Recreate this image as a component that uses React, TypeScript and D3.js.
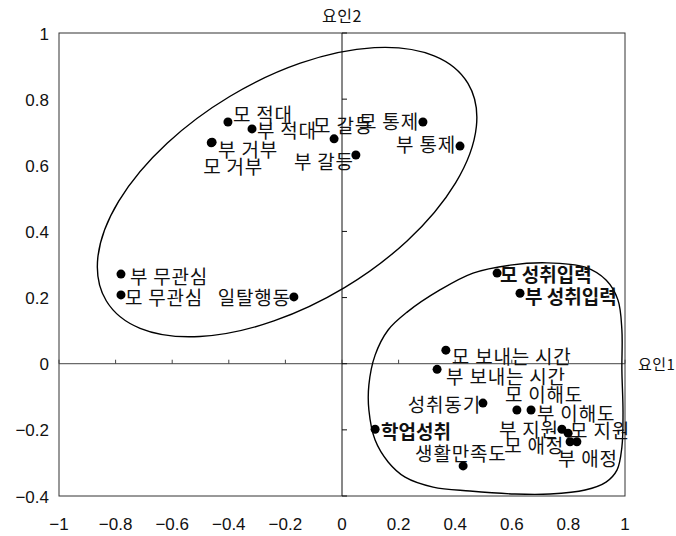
import React from "react";
import * as d3 from "d3";

// ---- data ----
const names = [
  "모 적대", "부 적대", "부 거부", "모 거부", "모 갈등", "부 갈등", "모 통제", "부 통제",
  "부 무관심", "모 무관심", "일탈행동",
  "모 성취입력", "부 성취입력", "모 보내는 시간", "부 보내는 시간", "성취동기",
  "모 이해도", "부 이해도", "학업성취", "부 지원", "모 지원", "모 애정", "부 애정", "생활만족도",
];
const factor1 = [
  -0.403, -0.318, -0.459, -0.462, -0.028, 0.049, 0.286, 0.417,
  -0.781, -0.781, -0.170,
  0.548, 0.629, 0.367, 0.336, 0.498,
  0.618, 0.668, 0.117, 0.777, 0.799, 0.806, 0.830, 0.428,
];
const factor2 = [
  0.731, 0.710, 0.670, 0.668, 0.680, 0.631, 0.731, 0.658,
  0.271, 0.208, 0.202,
  0.274, 0.213, 0.041, -0.017, -0.119,
  -0.140, -0.140, -0.198, -0.198, -0.210, -0.236, -0.236, -0.309,
];
const boldNames = ["모 성취입력", "부 성취입력", "학업성취"];

const xTicks = [-1, -0.8, -0.6, -0.4, -0.2, 0, 0.2, 0.4, 0.6, 0.8, 1];
const yTicks = [-0.4, -0.2, 0, 0.2, 0.4, 0.6, 0.8, 1];
const xAxisTitle = "요인1";
const yAxisTitle = "요인2";

// cluster outlines (in factor units)
const upperClusterCenter = [-0.194, 0.519];
const lowerCluster: [number, number][] = [
  [0.724, 0.305], [0.859, 0.292], [0.933, 0.253], [0.975, 0.193], [0.989, 0.102],
  [0.989, -0.019], [0.993, -0.149], [0.989, -0.252], [0.972, -0.321], [0.933, -0.358],
  [0.859, -0.382], [0.735, -0.394], [0.611, -0.394], [0.452, -0.385], [0.322, -0.373],
  [0.223, -0.343], [0.163, -0.297], [0.117, -0.231], [0.095, -0.140], [0.095, -0.064],
  [0.117, 0.026], [0.163, 0.102], [0.230, 0.156], [0.346, 0.223], [0.463, 0.274],
  [0.594, 0.298],
];

// ---- layout ----
const labelLayout: Record<string, [string, number, number]> = {
  "모 적대": ["start", 5, -8],
  "부 적대": ["start", 5, 1],
  "부 거부": ["start", 6, 6],
  "모 거부": ["start", -8, 23],
  "모 갈등": ["start", -21, -14],
  "부 갈등": ["end", -2, 5],
  "모 통제": ["end", -4, -1],
  "부 통제": ["end", -4, -3],
  "부 무관심": ["start", 9, 1],
  "모 무관심": ["start", 4, 2],
  "일탈행동": ["end", -3, 0],
  "모 성취입력": ["start", 3, 0],
  "부 성취입력": ["start", 5, 2],
  "모 보내는 시간": ["start", 6, 5],
  "부 보내는 시간": ["start", 9, 6],
  "성취동기": ["end", -2, 0],
  "모 이해도": ["start", -12, -17],
  "부 이해도": ["start", 6, 2],
  "학업성취": ["start", 6, 1],
  "부 지원": ["end", -3, -1],
  "모 지원": ["start", 2, -4],
  "모 애정": ["end", -6, 3],
  "부 애정": ["start", -19, 16],
  "생활만족도": ["start", -48, -13],
};

const W = 676, H = 536;
const left = 59, right = 625, top = 33, bottom = 496;
const KR = "'Noto Sans CJK KR', 'Noto Sans', sans-serif";
const NUM = "'Liberation Sans', Arial, sans-serif";

export default function App() {
  const x = d3.scaleLinear().domain([-1, 1]).range([left, right]);
  const y = d3.scaleLinear().domain([-0.4, 1]).range([bottom, top]);
  const fmt = (v: number) => (v < 0 ? "\u2212" : "") + d3.format("")(Math.abs(+v.toFixed(1)));

  const blobPath = d3
    .line<[number, number]>()
    .x((d) => x(d[0]))
    .y((d) => y(d[1]))
    .curve(d3.curveCatmullRomClosed.alpha(0.5))(lowerCluster);

  return (
    <svg
      width={W}
      height={H}
      style={{ position: "absolute", left: 0, top: 0, background: "#fff" }}
    >
      <rect x={0} y={0} width={W} height={H} fill="#fff" />
      {/* frame */}
      <rect x={left} y={top} width={right - left} height={bottom - top} fill="none" stroke="#333" strokeWidth={1} />
      {/* center axes */}
      <line x1={left} x2={right} y1={y(0)} y2={y(0)} stroke="#444" strokeWidth={1} />
      <line x1={x(0)} x2={x(0)} y1={top} y2={bottom} stroke="#111" strokeWidth={1} />
      {xTicks.map((t) => (
        <line key={"xt" + t} x1={x(t)} x2={x(t)} y1={y(0)} y2={y(0) - 4} stroke="#444" />
      ))}
      {yTicks.map((t) => (
        <line key={"yt" + t} x1={x(0)} x2={x(0) + 5} y1={y(t)} y2={y(t)} stroke="#111" />
      ))}
      {/* tick labels */}
      {xTicks.map((t) => (
        <text key={"xl" + t} x={x(t)} y={524} textAnchor="middle" dominantBaseline="central"
          fontFamily={NUM} fontSize={17} fill="#111">{fmt(t)}</text>
      ))}
      {yTicks.map((t) => (
        <text key={"yl" + t} x={49} y={y(t) + 1} textAnchor="end" dominantBaseline="central"
          fontFamily={NUM} fontSize={17} fill="#111">{fmt(t)}</text>
      ))}
      <text x={x(0)} y={15} textAnchor="middle" dominantBaseline="central" fontFamily={KR} fontSize={16} letterSpacing={0.5} fill="#111">{yAxisTitle}</text>
      <text x={638} y={y(0)} textAnchor="start" dominantBaseline="central" fontFamily={KR} fontSize={15} letterSpacing={0.5} fill="#111">{xAxisTitle}</text>

      {/* cluster outlines */}
      <ellipse
        cx={0} cy={0} rx={211} ry={111.5}
        transform={`translate(${x(upperClusterCenter[0])},${y(upperClusterCenter[1])}) rotate(-31)`}
        fill="none" stroke="#000" strokeWidth={1.4}
      />
      <path d={blobPath || ""} fill="none" stroke="#000" strokeWidth={1.4} />

      {/* labels */}
      {names.map((n, i) => {
        const [anchor, dx, dy] = labelLayout[n];
        const bold = boldNames.includes(n);
        return (
          <text key={"t" + n} x={x(factor1[i]) + dx} y={y(factor2[i]) + dy}
            textAnchor={anchor as any} dominantBaseline="central"
            fontFamily={KR} fontSize={19} letterSpacing={bold ? 0 : 0.8}
            fontWeight={bold ? 700 : 400} fill="#111">{n}</text>
        );
      })}
      {/* points */}
      {names.map((n, i) => (
        <circle key={"c" + n} cx={x(factor1[i])} cy={y(factor2[i])} r={4.5} fill="#000" />
      ))}
    </svg>
  );
}
